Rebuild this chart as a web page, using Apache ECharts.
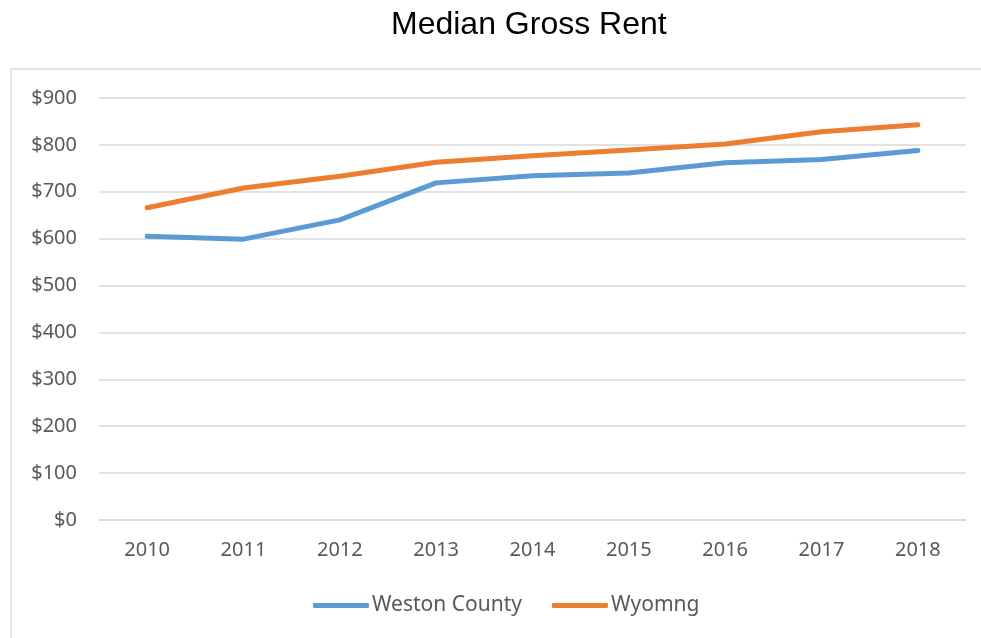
<!DOCTYPE html>
<html>
<head>
<meta charset="utf-8">
<script src="https://cdn.jsdelivr.net/npm/echarts@6/dist/echarts.min.js"></script>
<style>
  html, body { margin: 0; padding: 0; background: #fff; }
  #chart { width: 981px; height: 638px; }
</style>
</head>
<body>
<div id="chart"></div>
<script>
const years = ['2010', '2011', '2012', '2013', '2014', '2015', '2016', '2017', '2018']
const westonCounty = [605, 599, 640, 719, 734, 740, 762, 769, 788]
const wyoming = [666, 708, 733, 763, 777, 789, 802, 828, 843]

const textColor = '#595959'
const font = 'Noto Sans'

const myChart = echarts.init(document.getElementById('chart'))
myChart.setOption({
  animation: false,
  title: {
    text: 'Median Gross Rent',
    left: 386,
    top: 4,
    textStyle: {
      fontFamily: 'Liberation Sans',
      fontWeight: 'normal',
      fontSize: 32,
      color: '#000'
    }
  },
  graphic: [{
    type: 'rect',
    silent: true,
    shape: { x: 11, y: 69, width: 1000, height: 600 },
    style: { fill: 'none', stroke: '#d9d9d9', lineWidth: 1.5 }
  }],
  legend: {
    bottom: 17,
    left: 308,
    itemWidth: 56,
    itemHeight: 5,
    itemGap: 30,
    icon: 'roundRect',
    textStyle: { fontFamily: font, fontSize: 21, color: textColor, padding: [0, 0, 0, -2] },
    data: ['Weston County', 'Wyomng']
  },
  grid: {
    left: 99,
    right: 15,
    top: 98,
    bottom: 118
  },
  xAxis: {
    type: 'category',
    data: years,
    axisLine: { show: true, lineStyle: { color: '#d9d9d9', width: 1.5 } },
    axisTick: { show: false },
    axisLabel: { fontFamily: font, fontSize: 20, color: textColor, margin: 20 }
  },
  yAxis: {
    type: 'value',
    min: 0,
    max: 900,
    interval: 100,
    axisLine: { show: false },
    axisTick: { show: false },
    splitLine: { lineStyle: { color: '#d9d9d9', width: 1.5 } },
    axisLabel: {
      fontFamily: font,
      fontSize: 20,
      color: textColor,
      margin: 22,
      formatter: v => '$' + v
    }
  },
  series: [
    {
      name: 'Weston County',
      type: 'line',
      data: westonCounty,
      symbol: 'none',
      color: '#5B9BD5',
      lineStyle: { width: 5, cap: 'round', join: 'round' }
    },
    {
      name: 'Wyomng',
      type: 'line',
      data: wyoming,
      symbol: 'none',
      color: '#ED7D31',
      lineStyle: { width: 5, cap: 'round', join: 'round' }
    }
  ]
})
</script>
</body>
</html>
